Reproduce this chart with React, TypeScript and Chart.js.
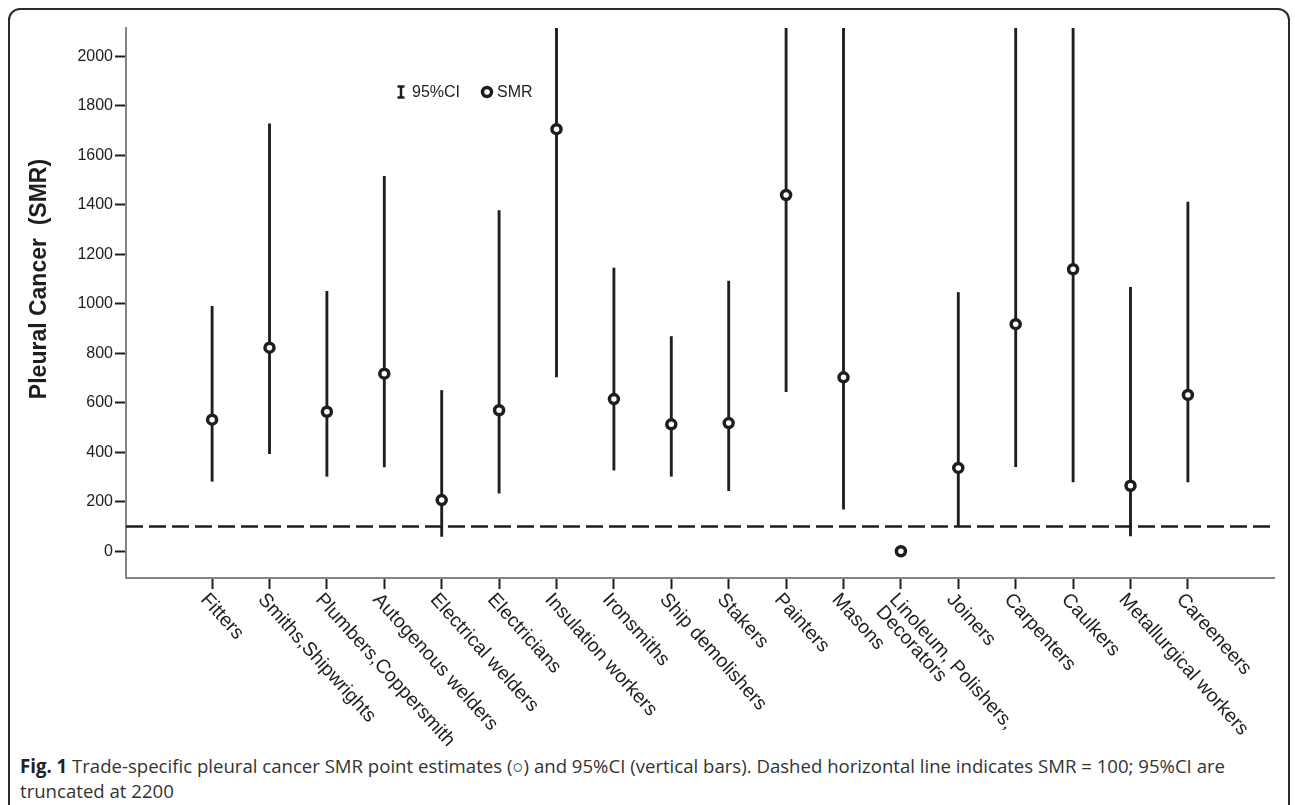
import React, { useEffect, useLayoutEffect, useRef } from 'react';
import { Chart, registerables } from 'chart.js';

Chart.register(...registerables);

// ---------------- data ----------------
const categories: (string | string[])[] = [
  'Fitters',
  'Smiths,Shipwrights',
  'Plumbers,Coppersmith',
  'Autogenous welders',
  'Electrical welders',
  'Electricians',
  'Insulation workers',
  'Ironsmiths',
  'Ship demolishers',
  'Stakers',
  'Painters',
  'Masons',
  ['Linoleum, Polishers,', 'Decorators'],
  'Joiners',
  'Carpenters',
  'Caulkers',
  'Metallurgical workers',
  'Careeneers',
];
const smrValues = [532, 823, 564, 718, 207, 570, 1706, 615, 513, 518, 1440, 703, 0, 337, 918, 1140, 265, 632];
const ciLower: (number | null)[] = [283, 395, 303, 341, 60, 235, 705, 328, 303, 245, 645, 170, null, 100, 342, 280, 62, 280];
const ciUpper: (number | null)[] = [990, 1728, 1051, 1515, 650, 1377, 2200, 1145, 868, 1092, 2200, 2200, null, 1046, 2200, 2200, 1067, 1411];
const yTickValues = [0, 200, 400, 600, 800, 1000, 1200, 1400, 1600, 1800, 2000];
const referenceSMR = 100;
const yAxisMin = -108;
const yAxisMax = 2115;
const yTitle = 'Pleural Cancer  (SMR)';
const legendCI = '95%CI';
const legendSMR = 'SMR';

const INK = '#1e1e1e';
const AXIS = '#858585';
const SANS = '"Liberation Sans", Arial, Helvetica, sans-serif';
const LABEL_ANGLE = (48 * Math.PI) / 180;

const annotatePlugin = {
  id: 'annotate',
  afterDraw(chart: any) {
    const { ctx, chartArea, scales } = chart;
    const xs = scales.x;
    ctx.save();
    ctx.fillStyle = INK;
    // rotated category labels
    ctx.font = `19.5px ${SANS}`;
    ctx.textAlign = 'left';
    ctx.textBaseline = 'top';
    categories.forEach((lab, i) => {
      const px = xs.getPixelForValue(i);
      const lines = Array.isArray(lab) ? lab : [lab];
      ctx.save();
      ctx.translate(px - 1, chartArea.bottom + 12);
      ctx.rotate(LABEL_ANGLE);
      lines.forEach((ln, j) => ctx.fillText(ln, 0, j * 18));
      ctx.restore();
    });

    // y axis title
    ctx.save();
    ctx.font = `bold 23px ${SANS}`;
    ctx.textAlign = 'center';
    ctx.textBaseline = 'middle';
    ctx.translate(40, chartArea.top + 251);
    ctx.rotate(-Math.PI / 2);
    ctx.fillText(yTitle, 0, 0);
    ctx.restore();

    // legend
    const lx = chartArea.left + 275;
    const ly = chartArea.top + 64;
    ctx.strokeStyle = INK;
    ctx.lineWidth = 2.5;
    ctx.beginPath();
    ctx.moveTo(lx, ly - 6);
    ctx.lineTo(lx, ly + 6);
    ctx.moveTo(lx - 3.5, ly - 5.5);
    ctx.lineTo(lx + 3.5, ly - 5.5);
    ctx.moveTo(lx - 3.5, ly + 5.5);
    ctx.lineTo(lx + 3.5, ly + 5.5);
    ctx.stroke();
    ctx.font = `16px ${SANS}`;
    ctx.textAlign = 'left';
    ctx.textBaseline = 'middle';
    ctx.fillText(legendCI, lx + 11, ly + 1);
    ctx.lineWidth = 3.5;
    ctx.beginPath();
    ctx.arc(lx + 86, ly, 4.5, 0, Math.PI * 2);
    ctx.fillStyle = '#fff';
    ctx.fill();
    ctx.stroke();
    ctx.fillStyle = INK;
    ctx.fillText(legendSMR, lx + 96, ly + 1);
    ctx.restore();
  },
};

function ChartCanvas() {
  const ref = useRef<HTMLCanvasElement | null>(null);
  useEffect(() => {
    if (!ref.current) return;
    const barData = categories
      .map((_, i) => (ciLower[i] == null || ciUpper[i] == null ? null : { x: i, y: [ciLower[i], ciUpper[i]] }))
      .filter(Boolean);
    const pointData = smrValues.map((v, i) => ({ x: i, y: v }));
    const refLine = [
      { x: -1.5, y: referenceSMR },
      { x: categories.length + 0.5, y: referenceSMR },
    ];
    const chart = new Chart(ref.current, {
      type: 'bar',
      data: {
        datasets: [
          {
            type: 'line',
            label: 'SMR',
            data: pointData,
            showLine: false,
            pointRadius: 4.5,
            pointHoverRadius: 4.5,
            pointBorderWidth: 3.5,
            pointBackgroundColor: '#ffffff',
            pointBorderColor: INK,
            order: 0,
          } as any,
          {
            type: 'bar',
            label: '95%CI',
            data: barData as any,
            backgroundColor: INK,
            barThickness: 2.2,
            borderWidth: 0,
            order: 1,
          } as any,
          {
            type: 'line',
            label: 'ref',
            data: refLine,
            borderColor: INK,
            borderWidth: 2.5,
            borderDash: [17, 6],
            pointRadius: 0,
            fill: false,
            order: 2,
          } as any,
        ],
      },
      options: {
        animation: false,
        responsive: false,
        maintainAspectRatio: false,
        events: [],
        layout: { padding: { left: 0, top: 28, right: 21, bottom: 0 } },
        plugins: { legend: { display: false }, tooltip: { enabled: false } },
        scales: {
          x: {
            type: 'linear',
            offset: false,
            min: -1.5,
            max: categories.length + 0.5,
            afterBuildTicks: (s: any) => {
              s.ticks = categories.map((_, i) => ({ value: i }));
            },
            afterFit: (s: any) => {
              s.height = 172;
            },
            ticks: { display: false, autoSkip: false },
            grid: {
              offset: false,
              drawOnChartArea: false,
              drawTicks: true,
              tickLength: 11,
              tickWidth: 2,
              tickColor: INK,
            },
            border: { display: true, color: AXIS, width: 2 },
          },
          y: {
            type: 'linear',
            min: yAxisMin,
            max: yAxisMax,
            afterBuildTicks: (s: any) => {
              s.ticks = yTickValues.map((v) => ({ value: v }));
            },
            afterFit: (s: any) => {
              s.width = 126;
            },
            ticks: {
              color: INK,
              font: { family: SANS, size: 16 },
              padding: 2,
              callback: (v: any) => String(v),
            },
            grid: {
              drawOnChartArea: false,
              drawTicks: true,
              tickLength: 11,
              tickWidth: 2,
              tickColor: INK,
            },
            border: { display: true, color: AXIS, width: 2 },
          },
        },
      } as any,
      plugins: [annotatePlugin],
    });
    return () => chart.destroy();
  }, []);
  return (
    <canvas
      ref={ref}
      width={1295}
      height={750}
      style={{ position: 'absolute', left: 0, top: 0, width: 1295, height: 750 }}
    />
  );
}

export default function App() {
  const capRef = useRef<HTMLDivElement | null>(null);
  const line1Ref = useRef<HTMLSpanElement | null>(null);
  useLayoutEffect(() => {
    if (!capRef.current || !line1Ref.current) return;
    const w = line1Ref.current.getBoundingClientRect().width;
    if (w > 0) capRef.current.style.transform = `scaleX(${1205 / w})`;
  }, []);
  return (
    <div
      style={{
        position: 'fixed',
        left: 0,
        top: 0,
        width: 1295,
        height: 805,
        overflow: 'hidden',
        background: '#fff',
      }}
    >
      <div
        style={{
          position: 'absolute',
          left: 8,
          top: 8,
          width: 1282,
          height: 900,
          boxSizing: 'border-box',
          border: '2px solid #2a2a2a',
          borderRadius: 12,
        }}
      />
      <ChartCanvas />
      <div
        ref={capRef}
        style={{
          position: 'absolute',
          left: 20,
          top: 754,
          fontFamily: '"Open Sans", "Noto Sans", sans-serif',
          fontSize: 19,
          lineHeight: '25px',
          color: '#333',
          whiteSpace: 'nowrap',
          transformOrigin: 'left top',
        }}
      >
        <span ref={line1Ref} style={{ display: 'inline-block' }}>
          <b style={{ color: '#222' }}>Fig. 1</b> Trade-specific pleural cancer SMR point estimates (○) and 95%CI
          (vertical bars). Dashed horizontal line indicates SMR = 100; 95%CI are
        </span>
        <br />
        <span>truncated at 2200</span>
      </div>
    </div>
  );
}
